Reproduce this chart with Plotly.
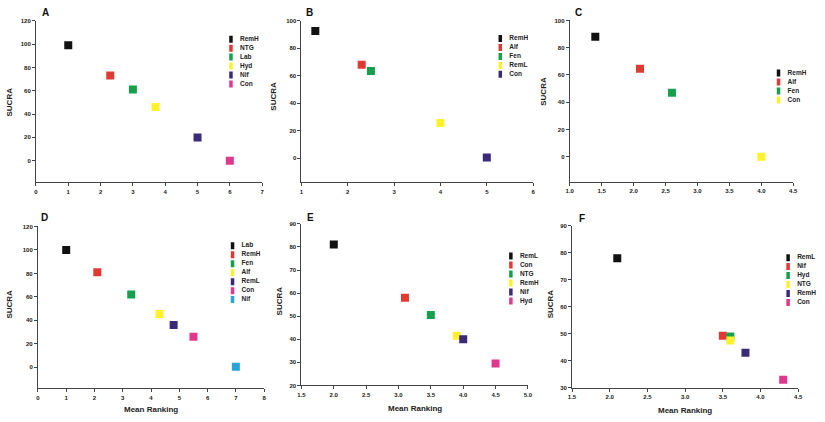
import plotly.graph_objects as go

# colour order used by every panel (legend order)
colours = ["#111111", "#e03a33", "#16a04e", "#fff22c", "#3a2a78", "#e0388e", "#2aa4d6"]

# panel A
a_names = ["RemH", "NTG", "Lab", "Hyd", "Nif", "Con"]
a_rank = [1.0, 2.3, 3.0, 3.7, 5.0, 6.0]
a_sucra = [99, 73, 61, 46, 20, 0]

# panel B
b_names = ["RemH", "Alf", "Fen", "RemL", "Con"]
b_rank = [1.3, 2.3, 2.5, 4.0, 5.0]
b_sucra = [92.5, 68, 63.5, 25.5, 0.5]

# panel C
c_names = ["RemH", "Alf", "Fen", "Con"]
c_rank = [1.4, 2.1, 2.6, 4.0]
c_sucra = [88, 64.5, 47, 0]

# panel D
d_names = ["Lab", "RemH", "Fen", "Alf", "RemL", "Con", "Nif"]
d_rank = [1.0, 2.1, 3.3, 4.3, 4.8, 5.5, 7.0]
d_sucra = [100, 81, 62, 45.5, 36, 26, 0.5]

# panel E
e_names = ["RemL", "Con", "NTG", "RemH", "Nif", "Hyd"]
e_rank = [2.0, 3.1, 3.5, 3.9, 4.0, 4.5]
e_sucra = [81, 58, 50.5, 41.5, 40, 29.5]

# panel F
f_names = ["RemL", "Nif", "Hyd", "NTG", "RemH", "Con"]
f_rank = [2.1, 3.5, 3.6, 3.6, 3.8, 4.3]
f_sucra = [78, 49.3, 49, 47.5, 43, 33]

W, H = 825, 422

def px(v):
    return v / W

def py(v):
    return 1 - v / H

# letter, data, x-range, y-range, y ticks, x ticks, plot box (left, right, top, bottom px),
# legend (marker x, first row y), y title pos, x title y
panels = [
    dict(l="A", n=a_names, x=a_rank, y=a_sucra, xr=[0, 7], yr=[-18.6, 120], yt=[0, 20, 40, 60, 80, 100, 120],
         xd=1, xf="", box=(32.3, 261, 18, 182), leg=(227.7, 36.7), lab=(36.7, 9.5), sy=(6, 100), mx=None),
    dict(l="B", n=b_names, x=b_rank, y=b_sucra, xr=[1, 6], yr=[-17.7, 100], yt=[0, 20, 40, 60, 80, 100],
         xd=1, xf="", box=(300.7, 535, 18, 182), leg=(500, 36), lab=(303.3, 10), sy=(273, 95), mx=None),
    dict(l="C", n=c_names, x=c_rank, y=c_sucra, xr=[1, 4.5], yr=[-18.6, 100], yt=[0, 20, 40, 60, 80, 100],
         xd=0.5, xf=".1f", box=(572, 798, 17.7, 181.7), leg=(781.3, 71), lab=(575.7, 10), sy=(546, 90), mx=None),
    dict(l="D", n=d_names, x=d_rank, y=d_sucra, xr=[0, 8], yr=[-18, 120], yt=[0, 20, 40, 60, 80, 100, 120],
         xd=1, xf="", box=(34.3, 263, 226.7, 391), leg=(229.3, 246.3), lab=(35.3, 217.7), sy=(6, 305), mx=412.7),
    dict(l="E", n=e_names, x=e_rank, y=e_sucra, xr=[1.5, 5], yr=[20, 90], yt=[20, 30, 40, 50, 60, 70, 80, 90],
         xd=0.5, xf=".1f", box=(300.7, 529.7, 224, 388), leg=(510.7, 256.7), lab=(304.3, 217.7), sy=(278, 301.7), mx=411.7),
    dict(l="F", n=f_names, x=f_rank, y=f_sucra, xr=[1.5, 4.5], yr=[30, 90], yt=[30, 40, 50, 60, 70, 80, 90],
         xd=0.5, xf=".1f", box=(574.3, 803, 226, 390.3), leg=(791, 258.3), lab=(579.3, 218.3), sy=(552.7, 305), mx=413.5),
]

tickfont = dict(family="Liberation Sans", size=6, color="#1a1a1a", weight="bold")
step = 9.1
gap = "\u00a0\u00a0\u00a0"

fig = go.Figure()
layout = {}
annotations = []

for i, p in enumerate(panels):
    k = i + 1
    kl = i + 7
    ax = "" if k == 1 else str(k)
    cols = colours[:len(p["n"])]

    fig.add_trace(go.Scatter(
        x=p["x"], y=p["y"], mode="markers", text=p["n"], hoverinfo="text+x+y",
        marker=dict(symbol="square", size=8, color=cols, line=dict(width=0)),
        xaxis="x" + ax, yaxis="y" + ax, showlegend=False))

    l, r, t, b = p["box"]
    layout["xaxis" + ax] = dict(domain=[px(l), px(r)], range=p["xr"], anchor="y" + ax,
                                dtick=p["xd"], tick0=0, tickformat=p["xf"], showgrid=False, zeroline=False,
                                showline=True, linecolor="#444444", linewidth=1, ticks="outside",
                                ticklen=3, tickcolor="#444444", tickfont=tickfont)
    layout["yaxis" + ax] = dict(domain=[py(b), py(t)], range=p["yr"], anchor="x" + ax,
                                tickvals=p["yt"], showgrid=False, zeroline=False,
                                showline=True, linecolor="#444444", linewidth=1, ticks="outside",
                                ticklen=3, tickcolor="#444444", tickfont=tickfont)

    # legend drawn on its own small category axis
    n = len(p["n"])
    mx, my = p["leg"]
    fig.add_trace(go.Scatter(
        x=[0] * n, y=p["n"], mode="markers+text", text=[gap + s for s in p["n"]], textposition="middle right",
        textfont=dict(family="Liberation Sans", size=6.5, color="#222222", weight="bold"),
        marker=dict(symbol="square", size=7, color=cols, line=dict(width=0)),
        xaxis="x%d" % kl, yaxis="y%d" % kl, showlegend=False, hoverinfo="skip"))
    layout["xaxis%d" % kl] = dict(domain=[px(mx), px(mx + 30)], range=[0, 1], anchor="y%d" % kl,
                                  visible=False, fixedrange=True)
    layout["yaxis%d" % kl] = dict(domain=[py(my - step / 2 + n * step), py(my - step / 2)],
                                  type="category", range=[n - 0.5, -0.5], anchor="x%d" % kl,
                                  visible=False, fixedrange=True)

    annotations.append(dict(text=p["l"], x=px(p["lab"][0]), y=py(p["lab"][1]), xref="paper", yref="paper",
                            xanchor="left", yanchor="middle", showarrow=False,
                            font=dict(family="Liberation Sans", size=10, color="#111111", weight="bold")))
    annotations.append(dict(text="SUCRA", x=px(p["sy"][0]), y=py(p["sy"][1]), xref="paper", yref="paper",
                            xanchor="center", yanchor="middle", showarrow=False, textangle=-90,
                            font=dict(family="Liberation Sans", size=8, color="#222222", weight="bold")))
    if p["mx"] is not None:
        annotations.append(dict(text="Mean Ranking", x=px((l + r) / 2), y=py(p["mx"]), xref="paper", yref="paper",
                                xanchor="center", yanchor="middle", showarrow=False,
                                font=dict(family="Liberation Sans", size=8, color="#222222", weight="bold")))

fig.update_layout(width=W, height=H, margin=dict(l=0, r=0, t=0, b=0),
                  paper_bgcolor="white", plot_bgcolor="white", showlegend=False,
                  annotations=annotations, **layout)

# page body has a default 8px margin; drop it so the figure sits at the window's corner
fig.write_html("out.html", config={"displayModeBar": False},
               post_script="document.body.style.margin='0px';")
